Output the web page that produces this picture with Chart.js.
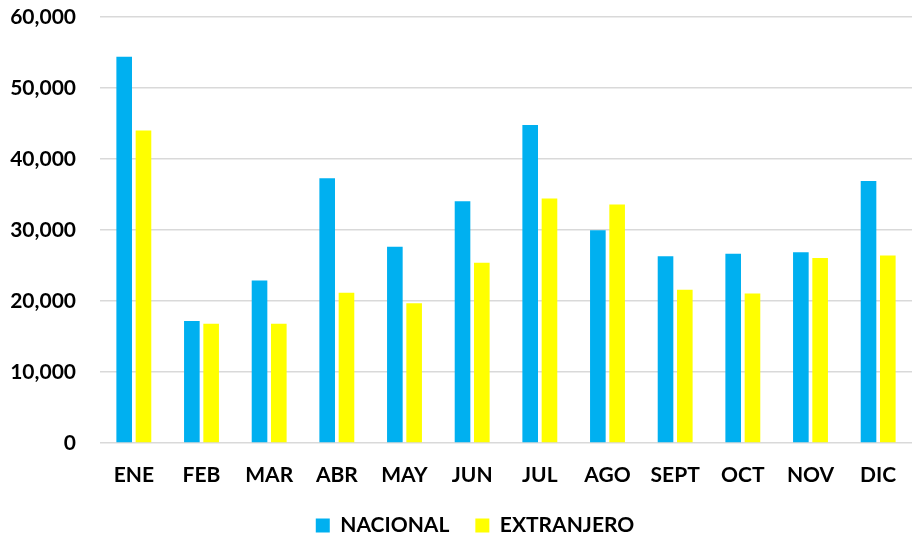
<!DOCTYPE html>
<html>
<head>
<meta charset="utf-8">
<script src="https://cdn.jsdelivr.net/npm/chart.js@4/dist/chart.umd.min.js"></script>
<style>
  html, body { margin: 0; padding: 0; background: #fff; }
  #wrap { width: 914px; height: 538px; position: relative; }
</style>
</head>
<body>
<div id="wrap"><canvas id="chart"></canvas></div>
<script>
const months = ['ENE', 'FEB', 'MAR', 'ABR', 'MAY', 'JUN', 'JUL', 'AGO', 'SEPT', 'OCT', 'NOV', 'DIC'];
const nacional = [54400, 17200, 22900, 37300, 27650, 34050, 44800, 29950, 26300, 26650, 26850, 36900];
const extranjero = [44000, 16800, 16800, 21150, 19700, 25400, 34450, 33600, 21600, 21050, 26050, 26400];
const yTicks = [0, 10000, 20000, 30000, 40000, 50000, 60000];

const font = { family: 'Lato, "Open Sans", sans-serif', weight: 'bold', size: 21 };

// legend sits centred under the plot area rather than the whole canvas
const shiftLegend = {
    id: 'shiftLegend',
    afterLayout(chart) {
        chart.legend.left += 19;
        chart.legend.right += 19;
    }
};

new Chart(document.getElementById('chart'), {
    type: 'bar',
    data: {
        labels: months,
        datasets: [
            { label: 'NACIONAL', data: nacional, backgroundColor: '#00b0f0' },
            { label: 'EXTRANJERO', data: extranjero, backgroundColor: '#ffff00' }
        ]
    },
    plugins: [shiftLegend],
    options: {
        responsive: true,
        maintainAspectRatio: false,
        animation: false,
        categoryPercentage: 0.57,
        barPercentage: 0.81,
        layout: { autoPadding: false, padding: { top: 17, right: 2, bottom: -8, left: 0 } },
        plugins: {
            tooltip: { enabled: false },
            legend: {
                position: 'bottom',
                labels: {
                    color: '#000',
                    font: font,
                    boxWidth: 14,
                    boxHeight: 14,
                    padding: 26
                }
            }
        },
        scales: {
            x: {
                afterFit: (s) => { s.height = 46; },
                grid: { display: false },
                border: { display: false },
                ticks: { color: '#000', font: font, padding: 12 }
            },
            y: {
                min: 0,
                max: 60000,
                afterFit: (s) => {
                    s.width = 100;
                    s.paddingTop = 0;
                    s.paddingBottom = 0;
                },
                afterBuildTicks: (s) => { s.ticks = yTicks.map(v => ({ value: v })); },
                grid: { color: '#d9d9d9', lineWidth: 1.5, drawTicks: false },
                border: { display: false },
                ticks: {
                    color: '#000',
                    font: font,
                    padding: 24,
                    callback: (v) => v.toLocaleString('en-US')
                }
            }
        }
    }
});
</script>
</body>
</html>
